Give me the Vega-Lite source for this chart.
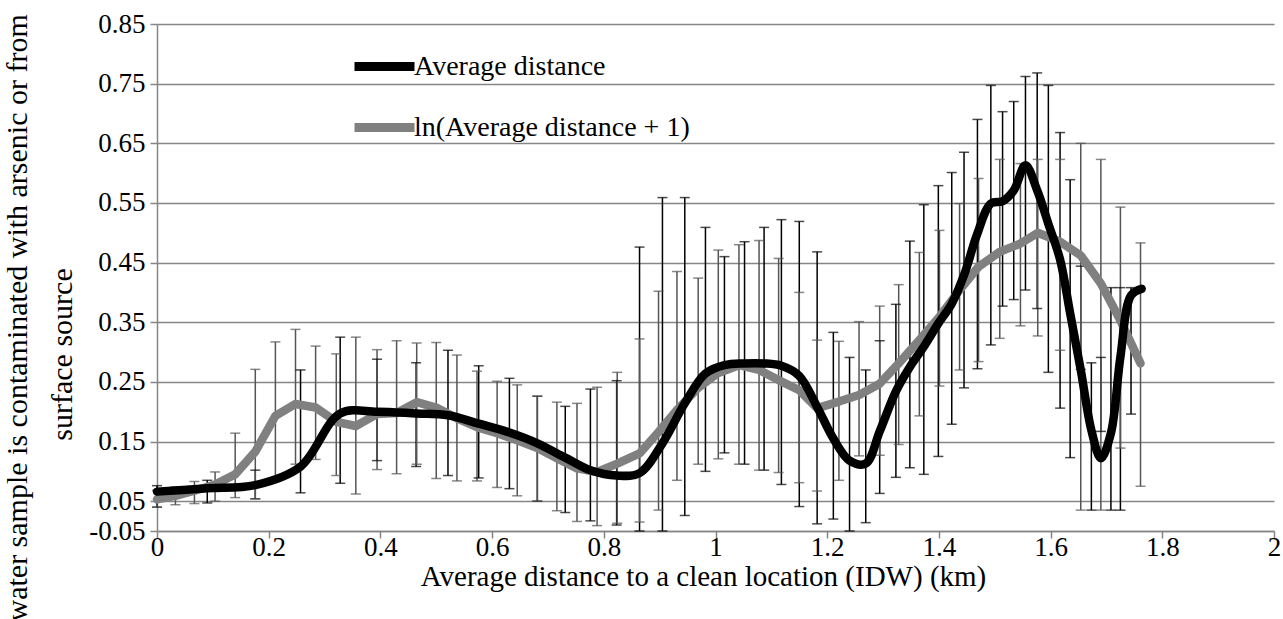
{
  "$schema": "https://vega.github.io/schema/vega-lite/v6.json",
  "autosize": {"type": "none"},
  "width": 1117,
  "height": 507,
  "padding": {"left": 157, "top": 24, "right": 9, "bottom": 88},
  "background": "white",
  "config": {
    "view": {"stroke": null},
    "axis": {"domainColor": "#868686", "domainWidth": 1.5, "tickColor": "#868686", "tickWidth": 1.5, "gridColor": "#868686", "gridWidth": 1.5, "labelColor": "#000000", "titleColor": "#000000", "titleFontWeight": "normal", "labelFont": "Liberation Serif", "titleFont": "Liberation Serif"}
  },
  "datasets": {
    "pts": [
      {"series": "Average distance", "x": 0.0, "y": 0.066, "lo": 0.040, "hi": 0.076},
      {"series": "Average distance", "x": 0.090, "y": 0.0715, "lo": 0.047, "hi": 0.085},
      {"series": "Average distance", "x": 0.176, "y": 0.077, "lo": 0.054, "hi": 0.102},
      {"series": "Average distance", "x": 0.257, "y": 0.108, "lo": 0.064, "hi": 0.270},
      {"series": "Average distance", "x": 0.328, "y": 0.197, "lo": 0.080, "hi": 0.325},
      {"series": "Average distance", "x": 0.394, "y": 0.200, "lo": 0.118, "hi": 0.288},
      {"series": "Average distance", "x": 0.464, "y": 0.197, "lo": 0.108, "hi": 0.282},
      {"series": "Average distance", "x": 0.521, "y": 0.194, "lo": 0.093, "hi": 0.303},
      {"series": "Average distance", "x": 0.576, "y": 0.180, "lo": 0.089, "hi": 0.277},
      {"series": "Average distance", "x": 0.631, "y": 0.165, "lo": 0.071, "hi": 0.256},
      {"series": "Average distance", "x": 0.681, "y": 0.147, "lo": 0.050, "hi": 0.226},
      {"series": "Average distance", "x": 0.731, "y": 0.123, "lo": 0.031, "hi": 0.209},
      {"series": "Average distance", "x": 0.776, "y": 0.102, "lo": 0.017, "hi": 0.238},
      {"series": "Average distance", "x": 0.823, "y": 0.093, "lo": 0.010, "hi": 0.252},
      {"series": "Average distance", "x": 0.864, "y": 0.097, "lo": 0.0, "hi": 0.476},
      {"series": "Average distance", "x": 0.905, "y": 0.147, "lo": 0.0, "hi": 0.559},
      {"series": "Average distance", "x": 0.945, "y": 0.214, "lo": 0.026, "hi": 0.559},
      {"series": "Average distance", "x": 0.982, "y": 0.264, "lo": 0.100, "hi": 0.509},
      {"series": "Average distance", "x": 1.016, "y": 0.278, "lo": 0.131, "hi": 0.460},
      {"series": "Average distance", "x": 1.052, "y": 0.281, "lo": 0.112, "hi": 0.485},
      {"series": "Average distance", "x": 1.087, "y": 0.281, "lo": 0.102, "hi": 0.509},
      {"series": "Average distance", "x": 1.118, "y": 0.277, "lo": 0.078, "hi": 0.522},
      {"series": "Average distance", "x": 1.150, "y": 0.260, "lo": 0.041, "hi": 0.519},
      {"series": "Average distance", "x": 1.182, "y": 0.208, "lo": 0.012, "hi": 0.468},
      {"series": "Average distance", "x": 1.211, "y": 0.155, "lo": 0.020, "hi": 0.333},
      {"series": "Average distance", "x": 1.240, "y": 0.118, "lo": 0.0, "hi": 0.291},
      {"series": "Average distance", "x": 1.269, "y": 0.113, "lo": 0.014, "hi": 0.270},
      {"series": "Average distance", "x": 1.294, "y": 0.167, "lo": 0.063, "hi": 0.319},
      {"series": "Average distance", "x": 1.323, "y": 0.234, "lo": 0.090, "hi": 0.380},
      {"series": "Average distance", "x": 1.348, "y": 0.275, "lo": 0.106, "hi": 0.486},
      {"series": "Average distance", "x": 1.373, "y": 0.309, "lo": 0.095, "hi": 0.547},
      {"series": "Average distance", "x": 1.399, "y": 0.348, "lo": 0.125, "hi": 0.579},
      {"series": "Average distance", "x": 1.423, "y": 0.381, "lo": 0.179, "hi": 0.601},
      {"series": "Average distance", "x": 1.445, "y": 0.429, "lo": 0.240, "hi": 0.635},
      {"series": "Average distance", "x": 1.469, "y": 0.499, "lo": 0.272, "hi": 0.690},
      {"series": "Average distance", "x": 1.493, "y": 0.549, "lo": 0.312, "hi": 0.747},
      {"series": "Average distance", "x": 1.514, "y": 0.553, "lo": 0.377, "hi": 0.703},
      {"series": "Average distance", "x": 1.534, "y": 0.571, "lo": 0.388, "hi": 0.720},
      {"series": "Average distance", "x": 1.555, "y": 0.613, "lo": 0.404, "hi": 0.762},
      {"series": "Average distance", "x": 1.576, "y": 0.571, "lo": 0.373, "hi": 0.768},
      {"series": "Average distance", "x": 1.596, "y": 0.515, "lo": 0.266, "hi": 0.747},
      {"series": "Average distance", "x": 1.617, "y": 0.455, "lo": 0.206, "hi": 0.668},
      {"series": "Average distance", "x": 1.635, "y": 0.365, "lo": 0.123, "hi": 0.589},
      {"series": "Average distance", "x": 1.654, "y": 0.270, "lo": 0.271, "hi": 0.444},
      {"series": "Average distance", "x": 1.673, "y": 0.169, "lo": 0.035, "hi": 0.282},
      {"series": "Average distance", "x": 1.690, "y": 0.122, "lo": 0.167, "hi": 0.291},
      {"series": "Average distance", "x": 1.708, "y": 0.164, "lo": 0.035, "hi": 0.408},
      {"series": "Average distance", "x": 1.725, "y": 0.292, "lo": 0.035, "hi": 0.408},
      {"series": "Average distance", "x": 1.744, "y": 0.395, "lo": 0.196, "hi": 0.408},
      {"series": "Average distance", "x": 1.763, "y": 0.406, "lo": null, "hi": null},
      {"series": "ln(Average distance + 1)", "x": 0.0, "y": 0.053, "lo": 0.040, "hi": 0.068},
      {"series": "ln(Average distance + 1)", "x": 0.033, "y": 0.059, "lo": 0.044, "hi": 0.074},
      {"series": "ln(Average distance + 1)", "x": 0.067, "y": 0.0675, "lo": 0.046, "hi": 0.083},
      {"series": "ln(Average distance + 1)", "x": 0.104, "y": 0.078, "lo": 0.050, "hi": 0.099},
      {"series": "ln(Average distance + 1)", "x": 0.140, "y": 0.095, "lo": 0.056, "hi": 0.164},
      {"series": "ln(Average distance + 1)", "x": 0.176, "y": 0.133, "lo": 0.054, "hi": 0.271},
      {"series": "ln(Average distance + 1)", "x": 0.212, "y": 0.193, "lo": 0.088, "hi": 0.317},
      {"series": "ln(Average distance + 1)", "x": 0.248, "y": 0.213, "lo": 0.112, "hi": 0.338},
      {"series": "ln(Average distance + 1)", "x": 0.284, "y": 0.207, "lo": 0.120, "hi": 0.310},
      {"series": "ln(Average distance + 1)", "x": 0.321, "y": 0.183, "lo": 0.093, "hi": 0.297},
      {"series": "ln(Average distance + 1)", "x": 0.356, "y": 0.176, "lo": 0.062, "hi": 0.325},
      {"series": "ln(Average distance + 1)", "x": 0.394, "y": 0.196, "lo": 0.103, "hi": 0.304},
      {"series": "ln(Average distance + 1)", "x": 0.429, "y": 0.198, "lo": 0.096, "hi": 0.319},
      {"series": "ln(Average distance + 1)", "x": 0.465, "y": 0.216, "lo": 0.112, "hi": 0.315},
      {"series": "ln(Average distance + 1)", "x": 0.500, "y": 0.207, "lo": 0.088, "hi": 0.316},
      {"series": "ln(Average distance + 1)", "x": 0.537, "y": 0.189, "lo": 0.084, "hi": 0.295},
      {"series": "ln(Average distance + 1)", "x": 0.573, "y": 0.174, "lo": 0.084, "hi": 0.268},
      {"series": "ln(Average distance + 1)", "x": 0.609, "y": 0.164, "lo": 0.073, "hi": 0.251},
      {"series": "ln(Average distance + 1)", "x": 0.645, "y": 0.152, "lo": 0.059, "hi": 0.245},
      {"series": "ln(Average distance + 1)", "x": 0.681, "y": 0.139, "lo": 0.050, "hi": 0.226},
      {"series": "ln(Average distance + 1)", "x": 0.716, "y": 0.122, "lo": 0.034, "hi": 0.216},
      {"series": "ln(Average distance + 1)", "x": 0.752, "y": 0.105, "lo": 0.016, "hi": 0.214},
      {"series": "ln(Average distance + 1)", "x": 0.788, "y": 0.099, "lo": 0.009, "hi": 0.241},
      {"series": "ln(Average distance + 1)", "x": 0.824, "y": 0.113, "lo": 0.013, "hi": 0.266},
      {"series": "ln(Average distance + 1)", "x": 0.864, "y": 0.130, "lo": 0.015, "hi": 0.322},
      {"series": "ln(Average distance + 1)", "x": 0.898, "y": 0.166, "lo": 0.035, "hi": 0.402},
      {"series": "ln(Average distance + 1)", "x": 0.931, "y": 0.203, "lo": 0.085, "hi": 0.435},
      {"series": "ln(Average distance + 1)", "x": 0.969, "y": 0.240, "lo": 0.112, "hi": 0.424},
      {"series": "ln(Average distance + 1)", "x": 1.005, "y": 0.265, "lo": 0.121, "hi": 0.471},
      {"series": "ln(Average distance + 1)", "x": 1.042, "y": 0.278, "lo": 0.112, "hi": 0.480},
      {"series": "ln(Average distance + 1)", "x": 1.078, "y": 0.270, "lo": 0.102, "hi": 0.487},
      {"series": "ln(Average distance + 1)", "x": 1.113, "y": 0.253, "lo": 0.098, "hi": 0.457},
      {"series": "ln(Average distance + 1)", "x": 1.150, "y": 0.236, "lo": 0.081, "hi": 0.400},
      {"series": "ln(Average distance + 1)", "x": 1.182, "y": 0.206, "lo": 0.067, "hi": 0.320},
      {"series": "ln(Average distance + 1)", "x": 1.221, "y": 0.217, "lo": 0.085, "hi": 0.318},
      {"series": "ln(Average distance + 1)", "x": 1.257, "y": 0.228, "lo": 0.126, "hi": 0.351},
      {"series": "ln(Average distance + 1)", "x": 1.294, "y": 0.247, "lo": 0.127, "hi": 0.377},
      {"series": "ln(Average distance + 1)", "x": 1.328, "y": 0.281, "lo": 0.145, "hi": 0.413},
      {"series": "ln(Average distance + 1)", "x": 1.365, "y": 0.320, "lo": 0.193, "hi": 0.467},
      {"series": "ln(Average distance + 1)", "x": 1.401, "y": 0.359, "lo": 0.243, "hi": 0.504},
      {"series": "ln(Average distance + 1)", "x": 1.437, "y": 0.404, "lo": 0.270, "hi": 0.549},
      {"series": "ln(Average distance + 1)", "x": 1.471, "y": 0.443, "lo": 0.284, "hi": 0.591},
      {"series": "ln(Average distance + 1)", "x": 1.509, "y": 0.468, "lo": 0.323, "hi": 0.623},
      {"series": "ln(Average distance + 1)", "x": 1.546, "y": 0.482, "lo": 0.344, "hi": 0.616},
      {"series": "ln(Average distance + 1)", "x": 1.577, "y": 0.500, "lo": 0.327, "hi": 0.623},
      {"series": "ln(Average distance + 1)", "x": 1.617, "y": 0.485, "lo": 0.303, "hi": 0.623},
      {"series": "ln(Average distance + 1)", "x": 1.654, "y": 0.462, "lo": 0.035, "hi": 0.650},
      {"series": "ln(Average distance + 1)", "x": 1.690, "y": 0.415, "lo": 0.035, "hi": 0.623},
      {"series": "ln(Average distance + 1)", "x": 1.725, "y": 0.353, "lo": 0.139, "hi": 0.543},
      {"series": "ln(Average distance + 1)", "x": 1.761, "y": 0.281, "lo": 0.075, "hi": 0.483}
    ]
  },
  "data": {"name": "pts"},
  "encoding": {
    "x": {
      "field": "x", "type": "quantitative",
      "scale": {"domain": [0, 2], "nice": false},
      "axis": {
        "title": "Average distance to a clean location (IDW) (km)",
        "titleFont": "Liberation Serif", "titleFontSize": 29, "titlePadding": 2, "titleX": 546,
        "values": [0, 0.2, 0.4, 0.6, 0.8, 1, 1.2, 1.4, 1.6, 1.8, 2],
        "labelExpr": "format(datum.value, '~g')",
        "labelFont": "Liberation Serif", "labelFontSize": 27, "labelPadding": -4, "tickSize": 7,
        "grid": false, "labelFlush": false, "labelOverlap": false
      }
    },
    "y": {
      "field": "y", "type": "quantitative",
      "scale": {"domain": [0, 0.85], "nice": false, "zero": false},
      "axis": {
        "title": ["Probability", "that a water sample is contaminated with arsenic or from", "surface source"],
        "titleFont": "Liberation Serif", "titleFontSize": 30, "titleX": -176, "titleY": 330, "titleAngle": -90,
        "titleBaseline": "alphabetic", "titleLineHeight": 45,
        "values": [0, 0.05, 0.15, 0.25, 0.35, 0.45, 0.55, 0.65, 0.75, 0.85],
        "labelExpr": "datum.value == 0 ? '-0.05' : format(datum.value, '.2f')",
        "labelFont": "Liberation Serif", "labelFontSize": 27, "labelPadding": 5, "tickSize": 7,
        "grid": true, "labelFlush": false, "labelOverlap": false
      }
    }
  },
  "layer": [
    {
      "transform": [{"filter": "datum.lo != null"}],
      "mark": {"type": "rule", "strokeWidth": 1.5},
      "encoding": {
        "y": {
          "field": "lo", "type": "quantitative",
          "scale": {"domain": [0, 0.85], "nice": false, "zero": false},
          "axis": {
            "title": ["Probability", "that a water sample is contaminated with arsenic or from", "surface source"],
            "titleFont": "Liberation Serif", "titleFontSize": 30, "titleX": -176, "titleY": 330, "titleAngle": -90,
            "titleBaseline": "alphabetic", "titleLineHeight": 45,
            "values": [0, 0.05, 0.15, 0.25, 0.35, 0.45, 0.55, 0.65, 0.75, 0.85],
            "labelExpr": "datum.value == 0 ? '-0.05' : format(datum.value, '.2f')",
            "labelFont": "Liberation Serif", "labelFontSize": 27, "labelPadding": 5, "tickSize": 7,
            "grid": true, "labelFlush": false, "labelOverlap": false
          }
        },
        "y2": {"field": "hi"},
        "color": {
          "field": "series", "type": "nominal",
          "scale": {"domain": ["Average distance", "ln(Average distance + 1)"], "range": ["#000000", "#555555"]},
          "legend": null
        }
      }
    },
    {
      "transform": [{"filter": "datum.lo != null"}, {"fold": ["lo", "hi"], "as": ["end", "val"]}],
      "mark": {"type": "tick", "orient": "horizontal", "size": 10, "thickness": 1.5},
      "encoding": {
        "y": {
          "field": "val", "type": "quantitative",
          "scale": {"domain": [0, 0.85], "nice": false, "zero": false},
          "axis": {
            "title": ["Probability", "that a water sample is contaminated with arsenic or from", "surface source"],
            "titleFont": "Liberation Serif", "titleFontSize": 30, "titleX": -176, "titleY": 330, "titleAngle": -90,
            "titleBaseline": "alphabetic", "titleLineHeight": 45,
            "values": [0, 0.05, 0.15, 0.25, 0.35, 0.45, 0.55, 0.65, 0.75, 0.85],
            "labelExpr": "datum.value == 0 ? '-0.05' : format(datum.value, '.2f')",
            "labelFont": "Liberation Serif", "labelFontSize": 27, "labelPadding": 5, "tickSize": 7,
            "grid": true, "labelFlush": false, "labelOverlap": false
          }
        },
        "color": {
          "field": "series", "type": "nominal",
          "scale": {"domain": ["Average distance", "ln(Average distance + 1)"], "range": ["#000000", "#555555"]},
          "legend": null
        }
      }
    },
    {
      "transform": [{"filter": "datum.series == 'ln(Average distance + 1)'"}],
      "mark": {"type": "line", "strokeWidth": 8.5, "interpolate": "linear", "strokeCap": "round", "strokeJoin": "round"},
      "encoding": {
        "order": {"field": "x", "type": "quantitative"},
        "color": {
          "field": "series", "type": "nominal",
          "scale": {"domain": ["Average distance", "ln(Average distance + 1)"], "range": ["#000000", "#808080"]},
          "legend": {
            "orient": "none", "legendX": 193, "legendY": 8, "title": null,
            "symbolType": "stroke", "symbolSize": 3600, "symbolStrokeWidth": 9,
            "labelFontSize": 28, "labelFont": "Liberation Serif", "labelColor": "#000000", "labelLimit": 500,
            "labelOffset": -5, "rowPadding": 8, "symbolOffset": 0
          }
        }
      }
    },
    {
      "transform": [{"filter": "datum.series == 'Average distance'"}],
      "mark": {"type": "line", "strokeWidth": 8.5, "interpolate": "catmull-rom", "strokeCap": "round", "strokeJoin": "round"},
      "encoding": {
        "order": {"field": "x", "type": "quantitative"},
        "color": {
          "field": "series", "type": "nominal",
          "scale": {"domain": ["Average distance", "ln(Average distance + 1)"], "range": ["#000000", "#808080"]},
          "legend": null
        }
      }
    }
  ],
  "resolve": {"scale": {"color": "independent"}}
}
